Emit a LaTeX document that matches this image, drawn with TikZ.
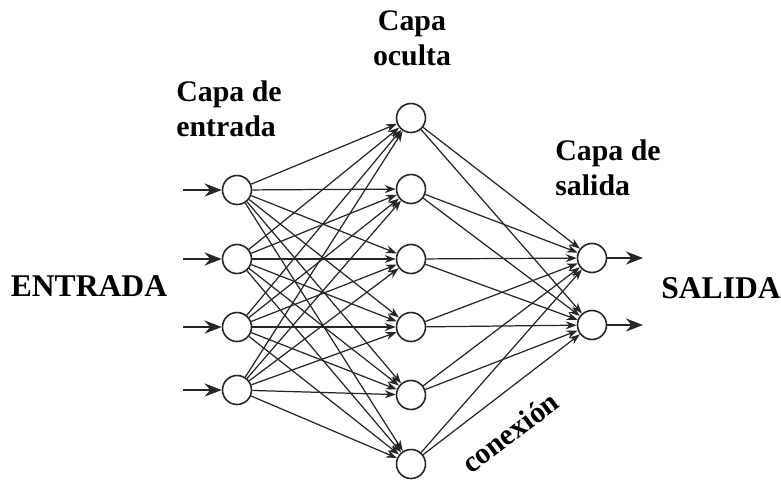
\documentclass[tikz,border=0pt]{standalone}
\usepackage{fontspec}
\setmainfont{Liberation Serif}
\usepackage{tikz}
\usetikzlibrary{arrows.meta}
\colorlet{ink}{black!85}

\begin{document}
\begin{tikzpicture}[x=0.02cm, y=-0.02cm, >={Stealth[length=2.2mm, width=1.6mm]},
  neuron/.style={circle, draw=ink, line width=0.9pt, minimum size=0.58cm, inner sep=0pt, fill=white},
  link/.style={->, draw=ink, line width=0.7pt},
  io/.style={-{Stealth[length=3.4mm, width=2.6mm]}, draw=ink, line width=1.6pt},
  title/.style={font=\bfseries\fontsize{17}{20}\selectfont, inner sep=0pt}]

  \useasboundingbox (0,0) rectangle (781,485);

  % --- the three layers of neurons -------------------------------------------
  \foreach \i/\y in {1/190, 2/259, 3/327, 4/390}
    \node[neuron] (in\i) at (237,\y) {};
  \foreach \i/\y in {1/118, 2/189, 3/259, 4/327, 5/395, 6/464}
    \node[neuron] (hid\i) at (411,\y) {};
  \node[neuron] (out1) at (592,258) {};
  \node[neuron] (out2) at (592,325) {};

  % --- every neuron feeds every neuron of the next layer ---------------------
  \foreach \a in {1,...,4}
    \foreach \b in {1,...,6}
      \draw[link] (in\a) -- (hid\b);
  \foreach \a in {1,...,6}
    \foreach \b in {1,2}
      \draw[link] (hid\a) -- (out\b);

  % --- signals coming in and going out ---------------------------------------
  \foreach \i/\y in {1/190, 2/259, 3/327, 4/390} {
    \coordinate (src\i) at (183,\y);
    \draw[io] (src\i) -- (in\i);
  }
  \coordinate (dst1) at (643,258);
  \coordinate (dst2) at (643,325);
  \draw[io] (out1) -- (dst1);
  \draw[io] (out2) -- (dst2);

  % --- layer titles -----------------------------------------------------------
  \node[title, align=left, anchor=west] (tin) at (176,109) {Capa de\\entrada};
  \node[title, align=center] (thid) at (412,38) {Capa\\oculta};
  \node[title, align=left, anchor=west] (tout) at (555,168) {Capa de\\salida};

  \node[font=\bfseries\fontsize{18}{20}\selectfont, inner sep=0pt] (entrada) at (89,286) {ENTRADA};
  \node[font=\bfseries\fontsize{18}{20}\selectfont, inner sep=0pt] (salida) at (721,288) {SALIDA};

  \node[title, rotate=37] (conexion) at (510,432) {conexión};

\end{tikzpicture}
\end{document}
